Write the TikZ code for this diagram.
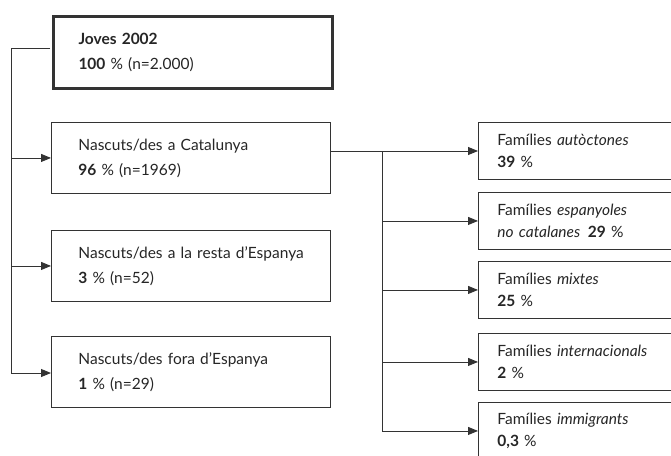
\documentclass[tikz,border=0pt]{standalone}
\usepackage{fontspec}
\setmainfont{Lato}
\usetikzlibrary{arrows.meta,calc}
\begin{document}
\begin{tikzpicture}[x=1pt,y=-1pt,
  lbox/.style={draw=black!80, line width=0.9pt, anchor=north west, rectangle,
    minimum width=279pt, minimum height=71pt, text width=279pt, inner xsep=0pt,
    inner ysep=0pt, align=left, font=\fontsize{15.5}{25}\selectfont, text=black!85},
  topbox/.style={lbox, line width=3pt, minimum width=279pt, minimum height=72pt},
  rbox/.style={draw=black!80, line width=0.9pt, anchor=north west, rectangle,
    minimum width=230pt, minimum height=57pt, text width=230pt, inner xsep=0pt,
    inner ysep=0pt, align=left, font=\fontsize{15.5}{21.5}\selectfont, text=black!85},
  conn/.style={draw=black!80, line width=0.9pt},
  arr/.style={conn, -{Triangle[length=10pt,width=8pt]}}]
\useasboundingbox (0,0) rectangle (671,455);
\clip (0,0) rectangle (671,455);
\fill[white] (0,0) rectangle (671,455);
% left column
\node[topbox] (top) at (51.5,14.5) {\hspace*{25.5pt}\textbf{Joves 2002}\\\hspace*{25.5pt}\textbf{100} \% (n=2.000)};
\node[lbox] (b2) at (51,122) {\hspace*{27pt}Nascuts/des a Catalunya\\\hspace*{27pt}\textbf{96} \% (n=1969)};
\node[lbox] (b3) at (51,230) {\hspace*{27pt}Nascuts/des a la resta d’Espanya\\\hspace*{27pt}\textbf{3} \% (n=52)};
\node[lbox] (b4) at (51,336) {\hspace*{27pt}Nascuts/des fora d’Espanya\\\hspace*{27pt}\textbf{1} \% (n=29)};
% right column
\node[rbox] (rA) at (478,122) {\hspace*{19pt}Famílies \textit{autòctones}\\\hspace*{19pt}\textbf{39} \%};
\node[rbox] (rB) at (478,192) {\hspace*{19pt}Famílies \textit{espanyoles}\\\hspace*{19pt}\textit{no catalanes}\enspace\textbf{29} \%};
\node[rbox] (rC) at (478,261) {\hspace*{19pt}Famílies \textit{mixtes}\\\hspace*{19pt}\textbf{25} \%};
\node[rbox] (rD) at (478,333) {\hspace*{19pt}Famílies \textit{internacionals}\\\hspace*{19pt}\textbf{2} \%};
\node[rbox] (rE) at (478,402) {\hspace*{19pt}Famílies \textit{immigrants}\\\hspace*{19pt}\textbf{0,3} \%};
% left connectors
\coordinate (lt) at (11,48);
\coordinate (lb) at (11,373);
\coordinate (ls) at (50,48);
\draw[conn] (ls) -- (lt) -- (lb);
\draw[arr] (lt |- b2.west) -- (b2.west);
\draw[arr] (lt |- b3.west) -- (b3.west);
\draw[arr] (lb) -- (lb -| b4.west);
% right connectors
\coordinate (rs) at ($(b2.north east)+(0,29)$);
\coordinate (rt) at (382,0 |- rs);
\coordinate (rb) at (382,0 |- rE.west);
\draw[arr] (rs) -- (rs -| rA.west);
\draw[conn] (rt) -- (rb);
\draw[arr] (rt |- rB.west) -- (rB.west);
\draw[arr] (rt |- rC.west) -- (rC.west);
\draw[arr] (rt |- rD.west) -- (rD.west);
\draw[arr] (rb) -- (rE.west);
\end{tikzpicture}
\end{document}
